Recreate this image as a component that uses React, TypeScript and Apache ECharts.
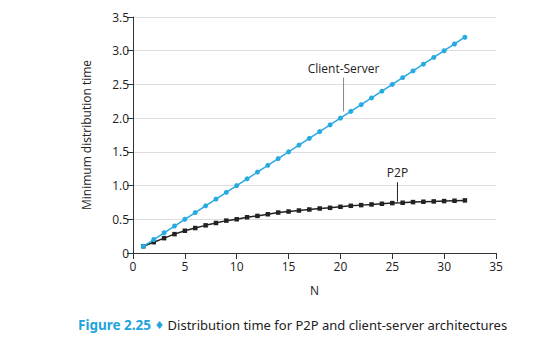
import React, { useEffect, useRef } from "react";
import * as echarts from "echarts";

const nValues = [1,2,3,4,5,6,7,8,9,10,11,12,13,14,15,16,17,18,19,20,21,22,23,24,25,26,27,28,29,30,31,32];
const clientServer = [0.1,0.2,0.3,0.4,0.5,0.6,0.7,0.8,0.9,1.0,1.1,1.2,1.3,1.4,1.5,1.6,1.7,1.8,1.9,2.0,2.1,2.2,2.3,2.4,2.5,2.6,2.7,2.8,2.9,3.0,3.1,3.2];
const p2p = [0.1,0.16,0.22,0.28,0.33,0.37,0.41,0.445,0.48,0.5,0.53,0.55,0.575,0.6,0.615,0.63,0.645,0.66,0.67,0.685,0.70,0.71,0.72,0.73,0.74,0.745,0.755,0.76,0.765,0.77,0.775,0.78];
const yTicks = [0, 0.5, 1.0, 1.5, 2.0, 2.5, 3.0, 3.5];
const xTicks = [0, 5, 10, 15, 20, 25, 30, 35];

const FONT = "'Open Sans', 'Noto Sans', sans-serif";

export default function App() {
  const ref = useRef<HTMLDivElement>(null);
  useEffect(() => {
    document.body.style.margin = "0";
    const chart = echarts.init(ref.current!, null, { renderer: "svg" });
    const option: any = {
      animation: false,
      backgroundColor: "#ffffff",
      grid: { left: 133, right: 52, top: 17, bottom: 94 },
      xAxis: {
        type: "value",
        min: xTicks[0],
        max: xTicks[xTicks.length - 1],
        interval: 5,
        name: "N",
        nameLocation: "middle",
        nameGap: 31,
        nameTextStyle: { fontFamily: FONT, fontSize: 12, color: "#222" },
        axisLine: { show: true, lineStyle: { color: "#333", width: 1 } },
        axisTick: { show: true, inside: false, length: 6, lineStyle: { color: "#333" } },
        axisLabel: { fontFamily: FONT, fontSize: 12, color: "#222", margin: 7 },
        splitLine: { show: false },
      },
      yAxis: {
        type: "value",
        min: yTicks[0],
        max: yTicks[yTicks.length - 1],
        interval: 0.5,
        name: "Minimum distribution time",
        nameLocation: "middle",
        nameGap: 41,
        nameTextStyle: { fontFamily: FONT, fontSize: 12, color: "#222" },
        axisLine: { show: true, lineStyle: { color: "#333", width: 1 } },
        axisTick: { show: true, inside: false, length: 6, lineStyle: { color: "#333" } },
        axisLabel: {
          fontFamily: FONT,
          fontSize: 12,
          color: "#222",
          margin: 4,
          formatter: (v: number) => (v === 0 ? "0" : v.toFixed(1)),
        },
        splitLine: { show: true, lineStyle: { color: "#dddddd", width: 1 } },
      },
      series: [
        {
          name: "Client-Server",
          type: "line",
          data: nValues.map((n, i) => [n, clientServer[i]]),
          symbol: "circle",
          symbolSize: 5,
          itemStyle: { color: "#27a9e1" },
          lineStyle: { color: "#27a9e1", width: 1.5 },
          z: 3,
        },
        {
          name: "P2P",
          type: "line",
          data: nValues.map((n, i) => [n, p2p[i]]),
          symbol: "rect",
          symbolSize: 4.5,
          itemStyle: { color: "#222222" },
          lineStyle: { color: "#222222", width: 1.5 },
          z: 2,
        },
      ],
    };
    chart.setOption(option);

    const p = (x: number, y: number) => chart.convertToPixel({ gridIndex: 0 }, [x, y]);
    const csTop = p(20.3, 2.6);
    const csBot = p(20.3, 2.1);
    const csText = p(20.3, 2.73);
    const pTop = p(25.5, 1.05);
    const pBot = p(25.5, 0.76);
    const pText = p(25.5, 1.2);

    chart.setOption({
      graphic: [
        { type: "line", shape: { x1: csTop[0], y1: csTop[1], x2: csBot[0], y2: csBot[1] }, style: { stroke: "#888", lineWidth: 1 } },
        { type: "text", x: csText[0], y: csText[1], style: { text: "Client-Server", fontFamily: FONT, fontSize: 12, fill: "#222", align: "center", verticalAlign: "middle" } },
        { type: "line", shape: { x1: pTop[0], y1: pTop[1], x2: pBot[0], y2: pBot[1] }, style: { stroke: "#222", lineWidth: 1 } },
        { type: "text", x: pText[0], y: pText[1], style: { text: "P2P", fontFamily: FONT, fontSize: 12, fill: "#222", align: "center", verticalAlign: "middle" } },
        {
          type: "text",
          x: 78,
          y: 325,
          style: {
            text: "{b|Figure 2.25} {d|♦} {t|Distribution time for P2P and client-server architectures}",
            verticalAlign: "middle",
            rich: {
              b: { fontFamily: "'Noto Sans', sans-serif", fontWeight: "bold", fontSize: 13.5, fill: "#1fa3dc" },
              d: { fontFamily: "'DejaVu Sans', sans-serif", fontSize: 11, fill: "#1fa3dc" },
              t: { fontFamily: "'Noto Sans', sans-serif", fontSize: 13, fill: "#222" },
            },
          },
        },
      ],
    });
    return () => chart.dispose();
  }, []);
  return <div ref={ref} style={{ width: 548, height: 347 }} />;
}
